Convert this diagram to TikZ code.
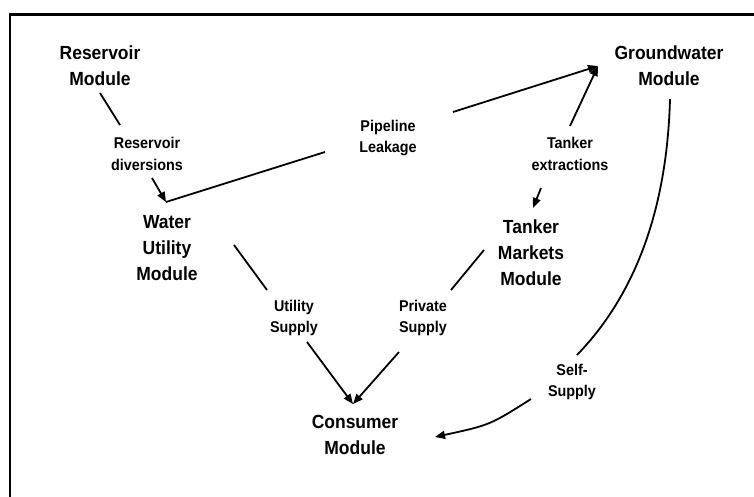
\documentclass[tikz,border=0pt]{standalone}
\usepackage{fontspec}
\setmainfont{Liberation Sans}[FakeStretch=0.92]
\usetikzlibrary{arrows.meta}
\begin{document}
\begin{tikzpicture}[x=1pt,y=-1pt,
  mod/.style={font=\bfseries\fontsize{19}{26}\selectfont,align=center,inner sep=0pt},
  lab/.style={font=\bfseries\fontsize{15.6}{21.5}\selectfont,align=center,inner sep=0pt},
  conn/.style={line width=1.8pt},
  arr/.style={line width=1.8pt,-{Triangle[length=10pt,width=8pt]}}]
\useasboundingbox (0,0) rectangle (754,497);
\draw[line width=2.5pt] (10,497) -- (10,14.5) -- (754,14.5);
% modules
\node[mod] (res) at (100,66) {Reservoir\\Module};
\node[mod] (gw) at (669,66) {Groundwater\\Module};
\node[mod] (wu) at (167,248) {Water\\Utility\\Module};
\node[mod] (tm) at (531,253) {Tanker\\Markets\\Module};
\node[mod] (cm) at (355,435) {Consumer\\Module};
% labels
\node[lab] (rd) at (147,154) {Reservoir\\diversions};
\node[lab] (pl) at (388,138) {Pipeline\\Leakage};
\node[lab] (te) at (570,154) {Tanker\\extractions};
\node[lab] (us) at (294,318) {Utility\\Supply};
\node[lab] (ps) at (423,318) {Private\\Supply};
\node[lab] (ss) at (572,382) {Self-\\Supply};
% connector points
\coordinate (res-o) at (100,93);
\coordinate (rd-i) at (120,125);
\coordinate (rd-o) at (152,178);
\coordinate (wu-in) at (166,202);
\coordinate (pl-l) at (325,152);
\coordinate (pl-r) at (453,112);
\coordinate (gw-in) at (598,66);
\coordinate (te-u) at (570,126);
\coordinate (te-d) at (541,188);
\coordinate (tm-in) at (533,208);
\coordinate (wu-o) at (234,245);
\coordinate (us-i) at (267,290);
\coordinate (us-o) at (307,342);
\coordinate (cm-in) at (353,404);
\coordinate (tm-o) at (484,250);
\coordinate (ps-i) at (451,290);
\coordinate (ps-o) at (399,352);
\coordinate (gw-o) at (670,99);
\coordinate (ss-i) at (577,355);
\coordinate (ss-o) at (531,399);
\coordinate (cm-r) at (435,437);
% connectors
\draw[conn] (res-o) -- (rd-i);
\draw[arr] (rd-o) -- (wu-in);
\draw[conn] (pl-l) -- (wu-in);
\draw[arr] (pl-r) -- (gw-in);
\draw[arr] (te-u) -- (gw-in);
\draw[arr] (te-d) -- (tm-in);
\draw[conn] (wu-o) -- (us-i);
\draw[arr] (us-o) -- (cm-in);
\draw[conn] (tm-o) -- (ps-i);
\draw[arr] (ps-o) -- (cm-in);
\draw[conn] (gw-o) .. controls (667,210) and (635,295) .. (ss-i);
\draw[arr] (ss-o) .. controls (490,425) .. (cm-r);
\end{tikzpicture}
\end{document}
